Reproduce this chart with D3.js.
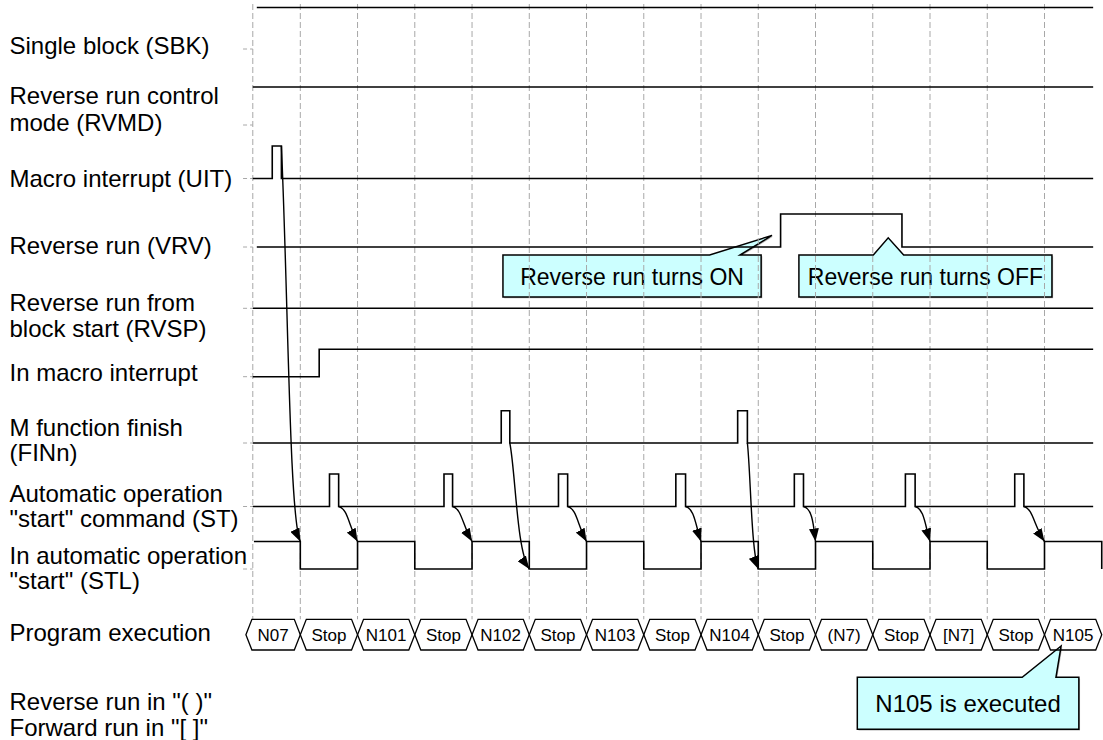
<!DOCTYPE html>
<html>
<head>
<meta charset="utf-8">
<script src="https://cdn.jsdelivr.net/npm/d3@7"></script>
<style>
  body { margin: 0; background: #fff; }
  svg { display: block; font-family: "Liberation Sans", Arial, sans-serif; }
</style>
</head>
<body>
<div class="container"></div>
<script>
const WIDTH = 1103;
const HEIGHT = 740;

// ---- data ----
var rowKeys = ["SBK", "RVMD", "UIT", "VRV", "RVSP", "INMAC", "FIN", "ST", "STL"];
var rowLabels = [
  ["Single block (SBK)"],
  ["Reverse run control", "mode (RVMD)"],
  ["Macro interrupt (UIT)"],
  ["Reverse run (VRV)"],
  ["Reverse run from", "block start (RVSP)"],
  ["In macro interrupt"],
  ["M function finish", "(FINn)"],
  ["Automatic operation", "\"start\" command (ST)"],
  ["In automatic operation", "\"start\" (STL)"]
];
var programLabel = "Program execution";
var noteLines = ["Reverse run in \"( )\"", "Forward run in \"[ ]\""];

// time axis: one unit per block, grid lines at 1..14
var gridTimes = [0.17, 1, 2, 3, 4, 5, 6, 7, 8, 9, 10, 11, 12, 13, 14];
var endTime = 14.85;

// level changes [time, level]
var sbkEdges = [[0.24, 1]];
var rvmdEdges = [[0.17, 1]];
var uitEdges = [[0.17, 0], [0.51, 1], [0.67, 0]];
var vrvEdges = [[0.24, 0], [9.39, 1], [11.51, 0]];
var rvspEdges = [[0.17, 0]];
var inMacroEdges = [[0.17, 0], [1.33, 1]];
var finPulses = [[4.51, 4.66], [8.64, 8.81]];
var stPulses = [[1.51, 1.67], [3.51, 3.66], [5.51, 5.67], [7.56, 7.73], [9.63, 9.79], [11.57, 11.74], [13.48, 13.64]];
var stlEdges = [[0.19, 1], [1, 0], [2, 1], [3, 0], [4, 1], [5, 0], [6, 1], [7, 0],
                [8, 1], [9, 0], [10, 1], [11, 0], [12, 1], [13, 0], [14, 1], [15, 0]];

// arrows: which STL edge each trigger points to
var uitArrowTarget = 1;
var finArrowTargets = [5, 9];
var stArrowTargets = [2, 4, 6, 8, 10, 12, 14];

var programBlocks = ["N07", "Stop", "N101", "Stop", "N102", "Stop", "N103", "Stop",
                     "N104", "Stop", "(N7)", "Stop", "[N7]", "Stop", "N105"];
var blockBounds = [0.05, 1, 2, 3, 4, 5, 6, 7, 8, 9, 10, 11, 12, 13, 14, 15];

var calloutTexts = ["Reverse run turns ON", "Reverse run turns OFF", "N105 is executed"];

// ---- layout ----
var rowLow = d3.scaleOrdinal().domain(rowKeys)
  .range([49, 125, 178.5, 247, 308.3, 376.7, 443, 506.5, 569]);
var rowHigh = d3.scaleOrdinal().domain(rowKeys)
  .range([7.5, 87, 146, 214, 308.3, 349.3, 410.7, 474, 541.5]);
var labelBase = [[53.5], [103.5, 130.5], [186.7], [254], [311, 337], [381],
                 [435.5, 461], [501.5, 526.5], [563.5, 589]];
var HEX_TOP = 619.3, HEX_BOT = 650, HEX_SLANT = 6;

// callout geometry: box in time units / px, notch base and tip
var calloutBoxes = [
  {l: 4.54, r: 9.05, top: 255, bot: 297, n0: 8.15, n1: 8.68, tipT: 9.24, tipY: 235.4, fs: 23},
  {l: 9.71, r: 14.13, top: 255, bot: 297, n0: 11.01, n1: 11.54, tipT: 11.27, tipY: 237.8, fs: 23},
  {l: 10.73, r: 14.60, top: 677.3, bot: 729.3, n0: 13.61, n1: 14.20, tipT: 14.29, tipY: 646, fs: 24}
];

var x = d3.scaleLinear().domain([1, 14]).range([300.3, 1044.5]);

var svg = d3.select('.container').append('svg')
  .attr('width', WIDTH)
  .attr('height', HEIGHT);

svg.append('defs').append('marker')
  .attr('id', 'ah')
  .attr('viewBox', '0 0 13 10')
  .attr('refX', 13).attr('refY', 5)
  .attr('markerWidth', 13).attr('markerHeight', 10)
  .attr('markerUnits', 'userSpaceOnUse')
  .attr('orient', 'auto')
  .append('path')
  .attr('d', 'M0,0L13,5L0,10Z')
  .attr('fill', '#000');

// callouts (under the grid)
var callG = svg.append('g');
calloutBoxes.forEach(function(c, i) {
  var p = d3.path();
  p.moveTo(x(c.l), c.top);
  p.lineTo(x(c.n0), c.top);
  p.lineTo(x(c.tipT), c.tipY);
  p.lineTo(x(c.n1), c.top);
  p.lineTo(x(c.r), c.top);
  p.lineTo(x(c.r), c.bot);
  p.lineTo(x(c.l), c.bot);
  p.closePath();
  callG.append('path')
    .attr('d', p.toString())
    .attr('transform', 'translate(1.2,1.2)')
    .attr('fill', '#b4b4b4');
  callG.append('path')
    .attr('d', p.toString())
    .attr('fill', '#ccffff')
    .attr('stroke', '#000')
    .attr('stroke-width', 1.5);
  callG.append('text')
    .attr('x', (x(c.l) + x(c.r)) / 2)
    .attr('y', (c.top + c.bot) / 2 + c.fs * 0.37)
    .attr('text-anchor', 'middle')
    .attr('font-size', c.fs)
    .text(calloutTexts[i]);
});

// grid
svg.append('g').selectAll('line')
  .data(gridTimes)
  .enter().append('line')
  .attr('x1', function(t) { return x(t); })
  .attr('x2', function(t) { return x(t); })
  .attr('y1', 4)
  .attr('y2', HEX_TOP)
  .attr('stroke', '#a8a8a8')
  .attr('stroke-width', 1)
  .attr('stroke-dasharray', '6,3');

// row ticks at left
svg.append('g').selectAll('line')
  .data(rowKeys)
  .enter().append('line')
  .attr('x1', x(0)).attr('x2', x(0.17))
  .attr('y1', function(k) { return rowLow(k); })
  .attr('y2', function(k) { return rowLow(k); })
  .attr('stroke', '#a8a8a8')
  .attr('stroke-dasharray', '4,3');

// labels
var labG = svg.append('g').attr('font-size', 24).attr('fill', '#000');
rowLabels.forEach(function(lines, i) {
  lines.forEach(function(s, j) {
    labG.append('text').attr('x', 9.5).attr('y', labelBase[i][j]).text(s);
  });
});
labG.append('text').attr('x', 9.5).attr('y', 641).text(programLabel);
noteLines.forEach(function(s, j) {
  labG.append('text').attr('x', 9.5).attr('y', 710 + j * 25.5).text(s);
});

// signals
function withEnd(edges) {
  var last = edges[edges.length - 1];
  return edges.concat([[endTime, last[1]]]);
}
function pulsesToEdges(start, pulses) {
  var e = [[start, 0]];
  pulses.forEach(function(p) { e.push([p[0], 1]); e.push([p[1], 0]); });
  return withEnd(e);
}
var signalData = [
  {key: "SBK", edges: withEnd(sbkEdges)},
  {key: "RVMD", edges: withEnd(rvmdEdges)},
  {key: "UIT", edges: withEnd(uitEdges)},
  {key: "VRV", edges: withEnd(vrvEdges)},
  {key: "RVSP", edges: withEnd(rvspEdges)},
  {key: "INMAC", edges: withEnd(inMacroEdges)},
  {key: "FIN", edges: pulsesToEdges(0.17, finPulses)},
  {key: "ST", edges: pulsesToEdges(0.17, stPulses)},
  {key: "STL", edges: stlEdges}
];

var sigG = svg.append('g');
signalData.forEach(function(s) {
  var line = d3.line()
    .x(function(d) { return x(d[0]); })
    .y(function(d) { return d[1] ? rowHigh(s.key) : rowLow(s.key); })
    .curve(d3.curveStepAfter);
  sigG.append('path')
    .datum(s.edges)
    .attr('d', line)
    .attr('fill', 'none')
    .attr('stroke', '#000')
    .attr('stroke-width', 1.6);
});

// arrows
var arrG = svg.append('g');
function drawArrow(x0, y0, c1x, c1y, c2x, c2y, x1, y1) {
  var p = d3.path();
  p.moveTo(x0, y0);
  p.bezierCurveTo(c1x, c1y, c2x, c2y, x1, y1);
  arrG.append('path')
    .attr('d', p.toString())
    .attr('fill', 'none')
    .attr('stroke', '#000')
    .attr('stroke-width', 1.4)
    .attr('marker-end', 'url(#ah)');
}
(function() {
  var x0 = x(uitEdges[2][0]), y0 = rowHigh("UIT");
  var x1 = x(uitArrowTarget), y1 = rowHigh("STL");
  drawArrow(x0, y0, x0 + 7, y0 + 160, x1 - 11, y1 - 24, x1, y1);
})();
finPulses.forEach(function(p, i) {
  var x0 = x(p[1]), y0 = rowLow("FIN");
  var x1 = x(finArrowTargets[i]), y1 = rowLow("STL");
  var dx = x1 - x0;
  drawArrow(x0, y0, x0 + 0.3 * dx, y0 + 30, x0 + 0.35 * dx, y1 - 18, x1, y1);
});
stPulses.forEach(function(p, i) {
  var x0 = x(p[1]), y0 = rowLow("ST");
  var x1 = x(stArrowTargets[i]), y1 = rowHigh("STL");
  drawArrow(x0, y0, x0 + 9, y0 + 2, x0 + 10, y1 - 16, x1, y1);
});

// program execution hexagons
var hexMid = (HEX_TOP + HEX_BOT) / 2;
var hexG = svg.append('g');
programBlocks.forEach(function(name, i) {
  var a = x(blockBounds[i]), b = x(blockBounds[i + 1]);
  var pts = [[a, hexMid], [a + HEX_SLANT, HEX_TOP], [b - HEX_SLANT, HEX_TOP],
             [b, hexMid], [b - HEX_SLANT, HEX_BOT], [a + HEX_SLANT, HEX_BOT]];
  hexG.append('path')
    .attr('d', d3.line().curve(d3.curveLinearClosed)(pts))
    .attr('fill', 'none')
    .attr('stroke', '#000')
    .attr('stroke-width', 1.3);
  hexG.append('text')
    .attr('x', (a + b) / 2)
    .attr('y', hexMid + 6)
    .attr('text-anchor', 'middle')
    .attr('font-size', 17)
    .text(name);
});
</script>
</body>
</html>
